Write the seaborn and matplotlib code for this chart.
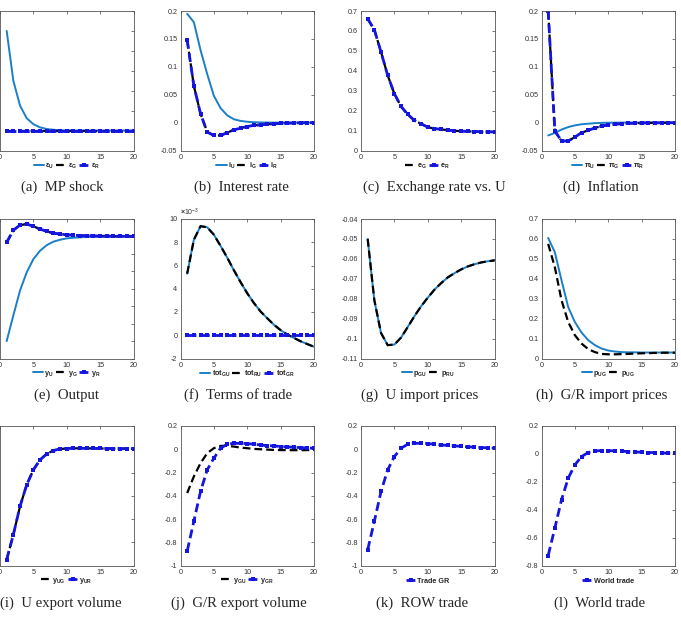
import matplotlib
matplotlib.use("Agg")
import matplotlib.pyplot as plt
import seaborn as sns
from matplotlib.ticker import FuncFormatter

# ---------------- data ----------------
periods = [1, 2, 3, 4, 5, 6, 7, 8, 9, 10, 11, 12, 13, 14, 15, 16, 17, 18, 19, 20]
zeros = [0, 0, 0, 0, 0, 0, 0, 0, 0, 0, 0, 0, 0, 0, 0, 0, 0, 0, 0, 0]

mp_U = [0.25, 0.125, 0.0625, 0.031, 0.016, 0.008, 0.004, 0.002, 0.001, 0.0005,
        0.0002, 0.0001, 0, 0, 0, 0, 0, 0, 0, 0]
mp_G = zeros
mp_R = zeros

i_U = [0.195, 0.18, 0.13, 0.087, 0.048, 0.026, 0.013, 0.006, 0.003, 0.0015,
       0.0007, 0.0003, 0.0001, 0, 0, 0, 0, 0, 0, 0]
i_R = [0.148, 0.066, 0.016, -0.017, -0.023, -0.023, -0.018, -0.013, -0.010, -0.007,
       -0.005, -0.004, -0.003, -0.002, -0.0015, -0.001, -0.0007, -0.0005, -0.0003, -0.0002]
i_G = i_R

e_R = [0.661, 0.606, 0.494, 0.377, 0.285, 0.221, 0.181, 0.151, 0.134, 0.117,
       0.110, 0.106, 0.102, 0.099, 0.097, 0.096, 0.095, 0.094, 0.094, 0.093]
e_G = e_R

pi_U = [-0.023, -0.0185, -0.0125, -0.008, -0.005, -0.003, -0.002, -0.001, -0.0005, -0.0002,
        -0.0001, 0, 0, 0, 0, 0, 0, 0, 0, 0]
pi_R = [0.2, -0.015, -0.033, -0.033, -0.026, -0.018, -0.014, -0.0095, -0.0065, -0.004,
        -0.003, -0.002, -0.0015, -0.001, -0.0007, -0.0005, -0.0004, -0.0003, -0.0002, -0.0002]
pi_G = pi_R

y_U = [-0.6, -0.453, -0.31, -0.206, -0.13, -0.082, -0.05, -0.03, -0.019, -0.011,
       -0.0076, -0.005, -0.003, -0.002, -0.001, -0.0007, -0.0004, -0.0002, -0.0001, 0]
y_R = [-0.034, 0.036, 0.065, 0.071, 0.058, 0.042, 0.029, 0.019, 0.013, 0.0095,
       0.007, 0.005, 0.004, 0.003, 0.002, 0.0015, 0.001, 0.0008, 0.0006, 0.0005]
y_G = y_R

tot_GU = [0.00530, 0.00821, 0.00938, 0.00929, 0.00865, 0.00769, 0.00667, 0.00559, 0.00457, 0.00361,
          0.00277, 0.00204, 0.00146, 0.00090, 0.00044, 0.00006, -0.00023, -0.00052, -0.00076, -0.00099]
tot_RU = tot_GU
tot_GR = zeros

p_GU = [-0.050, -0.0808, -0.0972, -0.1033, -0.103, -0.0995, -0.0942, -0.0888, -0.0838, -0.0795,
        -0.0755, -0.0722, -0.0693, -0.0672, -0.0653, -0.0638, -0.0627, -0.0618, -0.0612, -0.0608]
p_RU = p_GU

p_UG_a = [0.605, 0.533, 0.392, 0.258, 0.183, 0.130, 0.092, 0.067, 0.050, 0.040,
          0.035, 0.032, 0.031, 0.031, 0.030, 0.030, 0.030, 0.030, 0.030, 0.030]
p_UG_b = [0.575, 0.458, 0.292, 0.183, 0.117, 0.075, 0.047, 0.032, 0.023, 0.021,
          0.021, 0.022, 0.023, 0.025, 0.026, 0.027, 0.028, 0.029, 0.029, 0.029]

y_UR = [-0.949, -0.734, -0.491, -0.306, -0.177, -0.091, -0.040, -0.011, 0.003, 0.006,
        0.008, 0.008, 0.008, 0.007, 0.007, 0.006, 0.006, 0.005, 0.005, 0.005]
y_UG = y_UR

y_GR = [-0.877, -0.620, -0.363, -0.177, -0.077, 0.009, 0.043, 0.051, 0.051, 0.049,
        0.043, 0.037, 0.031, 0.029, 0.023, 0.020, 0.017, 0.014, 0.011, 0.009]
y_GU = [-0.377, -0.234, -0.12, -0.034, 0.009, 0.029, 0.029, 0.023, 0.014, 0.009,
        0.003, 0.0, -0.003, -0.006, -0.007, -0.008, -0.008, -0.008, -0.007, -0.007]

trade_GR = [-0.865, -0.62, -0.363, -0.177, -0.063, 0.009, 0.043, 0.051, 0.051, 0.049,
            0.043, 0.037, 0.033, 0.029, 0.025, 0.021, 0.018, 0.015, 0.012, 0.010]
world_trade = [-0.729, -0.531, -0.329, -0.174, -0.079, -0.019, 0.010, 0.021, 0.024, 0.024,
               0.021, 0.019, 0.017, 0.014, 0.012, 0.010, 0.009, 0.007, 0.005, 0.005]

captions = ["(a)  MP shock", "(b)  Interest rate", "(c)  Exchange rate vs. U", "(d)  Inflation",
            "(e)  Output", "(f)  Terms of trade", "(g)  U import prices", "(h)  G/R import prices",
            "(i)  U export volume", "(j)  G/R export volume", "(k)  ROW trade", "(l)  World trade"]

# ---------------- style ----------------
sns.set_style("white")
plt.rcParams['font.family'] = ['Liberation Sans', 'DejaVu Sans']
plt.rcParams['axes.unicode_minus'] = False
plt.rcParams['mathtext.fontset'] = 'custom'
plt.rcParams['mathtext.rm'] = 'Liberation Sans:bold'
plt.rcParams['mathtext.it'] = 'Liberation Sans:bold'
plt.rcParams['mathtext.default'] = 'rm'

BLUE_SOLID = '#1a7fc6'
BLUE_DASH = '#1515e0'
STY = {
    'solid': dict(color=BLUE_SOLID, linewidth=1.4, linestyle='-'),
    'black': dict(color='black', linewidth=1.6, linestyle=(0, (3.5, 1.8))),
    'bdash': dict(color=BLUE_DASH, linewidth=2.0, linestyle=(0, (3.2, 1.6)),
                  marker='s', markersize=2.6, markeredgewidth=0),
}

panels = [
    dict(series=[(mp_U, 'solid', r'$\varepsilon_U$'), (mp_G, 'black', r'$\varepsilon_G$'), (mp_R, 'bdash', r'$\varepsilon_R$')],
         ylim=(-0.05, 0.3), yticks=[-0.05, 0, 0.05, 0.1, 0.15, 0.2, 0.25, 0.3]),
    dict(series=[(i_U, 'solid', r'$i_U$'), (i_G, 'black', r'$i_G$'), (i_R, 'bdash', r'$i_R$')],
         ylim=(-0.05, 0.2), yticks=[-0.05, 0, 0.05, 0.1, 0.15, 0.2]),
    dict(series=[(e_G, 'black', r'$e_G$'), (e_R, 'bdash', r'$e_R$')],
         ylim=(0, 0.7), yticks=[0, 0.1, 0.2, 0.3, 0.4, 0.5, 0.6, 0.7]),
    dict(series=[(pi_U, 'solid', r'$\pi_U$'), (pi_G, 'black', r'$\pi_G$'), (pi_R, 'bdash', r'$\pi_R$')],
         ylim=(-0.05, 0.2), yticks=[-0.05, 0, 0.05, 0.1, 0.15, 0.2]),
    dict(series=[(y_U, 'solid', r'$y_U$'), (y_G, 'black', r'$y_G$'), (y_R, 'bdash', r'$y_R$')],
         ylim=(-0.7, 0.1), yticks=[-0.7, -0.6, -0.5, -0.4, -0.3, -0.2, -0.1, 0, 0.1]),
    dict(series=[(tot_GU, 'solid', r'$tot_{GU}$'), (tot_RU, 'black', r'$tot_{RU}$'), (tot_GR, 'bdash', r'$tot_{GR}$')],
         ylim=(-0.002, 0.01), yticks=[-0.002, 0, 0.002, 0.004, 0.006, 0.008, 0.01], scale=1e3),
    dict(series=[(p_GU, 'solid', r'$p_{GU}$'), (p_RU, 'black', r'$p_{RU}$')],
         ylim=(-0.11, -0.04), yticks=[-0.11, -0.1, -0.09, -0.08, -0.07, -0.06, -0.05, -0.04]),
    dict(series=[(p_UG_a, 'solid', r'$p_{UG}$'), (p_UG_b, 'black', r'$p_{UG}$')],
         ylim=(0, 0.7), yticks=[0, 0.1, 0.2, 0.3, 0.4, 0.5, 0.6, 0.7]),
    dict(series=[(y_UG, 'black', r'$y_{UG}$'), (y_UR, 'bdash', r'$y_{UR}$')],
         ylim=(-1, 0.2), yticks=[-1, -0.8, -0.6, -0.4, -0.2, 0, 0.2]),
    dict(series=[(y_GU, 'black', r'$y_{GU}$'), (y_GR, 'bdash', r'$y_{GR}$')],
         ylim=(-1, 0.2), yticks=[-1, -0.8, -0.6, -0.4, -0.2, 0, 0.2]),
    dict(series=[(trade_GR, 'bdash', 'Trade GR')],
         ylim=(-1, 0.2), yticks=[-1, -0.8, -0.6, -0.4, -0.2, 0, 0.2]),
    dict(series=[(world_trade, 'bdash', 'World trade')],
         ylim=(-0.8, 0.2), yticks=[-0.8, -0.6, -0.4, -0.2, 0, 0.2]),
]

W, H = 681, 618
fig = plt.figure(figsize=(W / 100, H / 100), dpi=100)
fig.patch.set_facecolor('white')
col_left = [0, 180.5, 361, 541.5]
row_top = [11, 219, 426]
aw, ah = 133.5, 139.5
cap_x = [62, 241, 434, 601, 66, 238, 420, 602, 61, 239, 422, 600]
cap_y = [187, 395, 603]

for k, p in enumerate(panels):
    r, c = divmod(k, 4)
    ax = fig.add_axes([col_left[c] / W, 1 - (row_top[r] + ah) / H, aw / W, ah / H])
    for vals, st, lab in p['series']:
        sns.lineplot(x=periods, y=vals, ax=ax, label=lab, **STY[st])
    ax.set_xlim(0, 20)
    ax.set_xticks([0, 5, 10, 15, 20])
    ax.set_ylim(*p['ylim'])
    ax.set_yticks(p['yticks'])
    sc = p.get('scale', 1)
    ax.yaxis.set_major_formatter(FuncFormatter(lambda v, _, s=sc: f'{round(v * s, 6):g}'))
    ax.xaxis.set_major_formatter(FuncFormatter(lambda v, _: f'{v:g}'))
    ax.tick_params(direction='in', length=2.5, width=0.5, colors='#444444', labelcolor='#333333',
                   labelsize=5.2, top=True, right=True, pad=2.2)
    if c == 0:
        # the left column's y tick labels fall outside the page in the reference
        ax.tick_params(axis='y', labelleft=False)
    for s in ax.spines.values():
        s.set_linewidth(0.6)
        s.set_color('#555555')
    ax.set_xlabel('')
    ax.set_ylabel('')
    if sc != 1:
        ax.text(0, 1.01, r'$\times\mathregular{10^{-3}}$', transform=ax.transAxes, fontsize=5,
                ha='left', va='bottom', color='#333333')
    bold = len(p['series']) == 1
    ax.legend(loc='center', bbox_to_anchor=(0.5, -15.5 / ah), ncol=len(p['series']),
              frameon=False, prop=dict(size=5.2, weight='bold' if bold else 'normal'),
              handlelength=1.4, handletextpad=0.2, columnspacing=0.3,
              borderaxespad=0, borderpad=0)
    fig.text(cap_x[k] / W, 1 - cap_y[r] / H, captions[k], ha='center', va='center',
             fontsize=10.6, family='Liberation Serif')

fig.savefig('out.png', dpi=100, facecolor='white')
